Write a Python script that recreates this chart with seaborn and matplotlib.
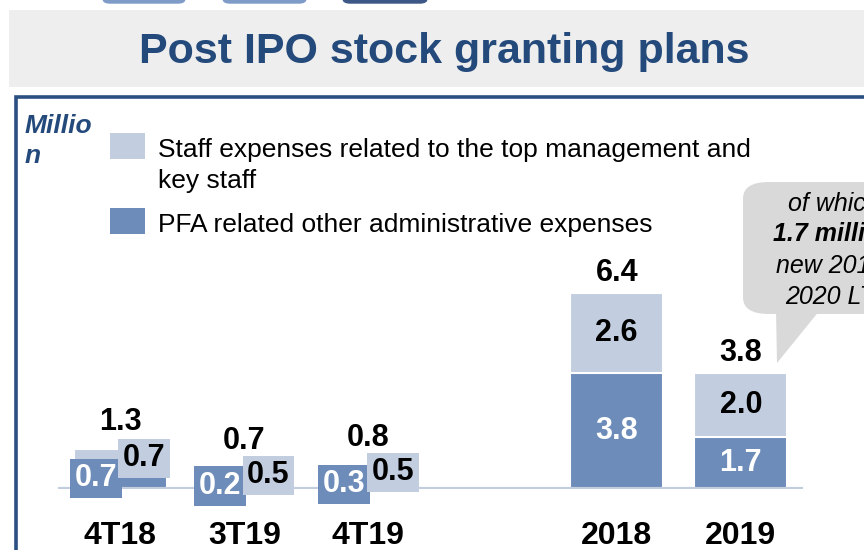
import matplotlib
matplotlib.use('Agg')
import matplotlib.pyplot as plt
import numpy as np
import pandas as pd
import seaborn as sns
from matplotlib.patches import Rectangle, FancyBboxPatch, Polygon

# chart data
periods = ['4T18', '3T19', '4T19', '2018', '2019']
order = ['4T18', '3T19', '4T19', '', '2018', '2019']
pfa_expenses = [0.7, 0.2, 0.3, 3.8, 1.7]
staff_expenses = [0.7, 0.5, 0.5, 2.6, 2.0]
totals = [1.3, 0.7, 0.8, 6.4, 3.8]
quarterly = ['4T18', '3T19', '4T19']

title = 'Post IPO stock granting plans'
legend_staff = ['Staff expenses related to the top management and', 'key staff']
legend_pfa = 'PFA related other administrative expenses'
callout_lines = ['of which', '1.7 million', 'new 2019-', '2020 LTI']

# colours
light = '#C2CDE0'
dark = '#6E8CB9'
navy = '#244A7C'

sns.set_theme(style='white')
plt.rcParams['font.family'] = ['Liberation Sans', 'DejaVu Sans']

W, H = 864, 550
fig = plt.figure(figsize=(W / 100, H / 100), dpi=100)


# helpers for placing slide decorations in pixel coordinates
def fx(x):
    return x / W


def fy(y):
    return 1 - y / H


def px_rect(x0, y0, x1, y1, **kw):
    return Rectangle((fx(x0), fy(y1)), fx(x1) - fx(x0), fy(y0) - fy(y1),
                     transform=fig.transFigure, **kw)


# slide decorations: tabs, title band, frame
for x0, x1, c in [(103, 185, '#7F9CC9'), (223, 306, '#7F9CC9'), (343, 427, '#3D5886')]:
    fig.add_artist(FancyBboxPatch((fx(x0), fy(3)), fx(x1) - fx(x0), 0.03,
                                  boxstyle='round,pad=0,rounding_size=0.008',
                                  transform=fig.transFigure, color=c, clip_on=False))
fig.add_artist(px_rect(9, 10, 870, 87, color='#EEEEEE', lw=0))
fig.text(fx(444), fy(63), title, ha='center', va='baseline', fontsize=31,
         fontweight='bold', color=navy)
fig.add_artist(px_rect(15.5, 96.5, 900, 600, facecolor='none', edgecolor='#2A4F80', lw=2.6))

# unit label and legend
fig.text(fx(25), fy(133), 'Millio', ha='left', va='baseline', fontsize=19,
         fontweight='bold', fontstyle='italic', color=navy)
fig.text(fx(25), fy(163), 'n', ha='left', va='baseline', fontsize=19,
         fontweight='bold', fontstyle='italic', color=navy)
fig.add_artist(px_rect(110, 133, 145, 159, color=light, lw=0))
fig.add_artist(px_rect(110, 208, 145, 234, color=dark, lw=0))
fig.text(fx(158), fy(157), legend_staff[0], ha='left', va='baseline', fontsize=19, color='black')
fig.text(fx(158), fy(188), legend_staff[1], ha='left', va='baseline', fontsize=19, color='black')
fig.text(fx(158), fy(232), legend_pfa, ha='left', va='baseline', fontsize=19, color='black')

# callout bubble
fig.add_artist(FancyBboxPatch((fx(743), fy(314)), fx(1000) - fx(743), fy(182) - fy(314),
                              boxstyle='round,pad=0,rounding_size=0.03',
                              transform=fig.transFigure, color='#D9D9D9', lw=0))
fig.add_artist(Polygon([(fx(776), fy(310)), (fx(820), fy(310)), (fx(777), fy(363))],
                       closed=True, transform=fig.transFigure, color='#D9D9D9', lw=0))
for i, (line, yy) in enumerate(zip(callout_lines, [204, 234, 266, 297])):
    fig.text(fx(834), fy(yy), line, ha='center', va='center', fontsize=18,
             fontstyle='italic', fontweight='bold' if i == 1 else 'normal', color='black')

# bars
ax = fig.add_axes([fx(58), fy(489), fx(803) - fx(58), fy(150) - fy(489)])
df = pd.DataFrame({'period': periods, 'total': totals, 'pfa': pfa_expenses})
sns.barplot(data=df, x='period', y='total', order=order, color=light, saturation=1,
            width=0.75, edgecolor='white', linewidth=1.5, ax=ax)
sns.barplot(data=df, x='period', y='pfa', order=order, color=dark, saturation=1,
            width=0.75, edgecolor='white', linewidth=1.5, ax=ax)
ax.set_ylim(0, 339 / 30.6)
ax.set_xlim(-0.5, 5.5)
ax.axhline(0, color=light, lw=3, zorder=5)
sns.despine(ax=ax, left=True, bottom=True)
ax.set_yticks([])
ax.set_xlabel('')
ax.set_ylabel('')
ax.tick_params(axis='x', length=0, pad=23, labelsize=23)
for lbl in ax.get_xticklabels():
    lbl.set_fontweight('bold')
    lbl.set_color('black')

# value labels
for p, d, s, t in zip(periods, pfa_expenses, staff_expenses, totals):
    x = order.index(p)
    if p in quarterly:
        ax.text(x - 0.195, d / 2, f'{d:.1f}', ha='center', va='center', fontsize=22,
                fontweight='bold', color='white', zorder=6,
                bbox=dict(boxstyle='square,pad=0.15', fc=dark, ec='none'))
        ax.text(x + 0.195, (d + t) / 2, f'{s:.1f}', ha='center', va='center', fontsize=22,
                fontweight='bold', color='black', zorder=7,
                bbox=dict(boxstyle='square,pad=0.15', fc=light, ec='none'))
        off = 27
    else:
        ax.text(x, d / 2, f'{d:.1f}', ha='center', va='center', fontsize=22,
                fontweight='bold', color='white', zorder=6)
        ax.text(x, (d + t) / 2, f'{s:.1f}', ha='center', va='center', fontsize=22,
                fontweight='bold', color='black', zorder=6)
        off = 20
    ax.annotate(f'{t:.1f}', (x, t), xytext=(0, off * 0.72), textcoords='offset points',
                ha='center', va='center', fontsize=22, fontweight='bold', color='black')

fig.savefig('out.png', dpi=100)
